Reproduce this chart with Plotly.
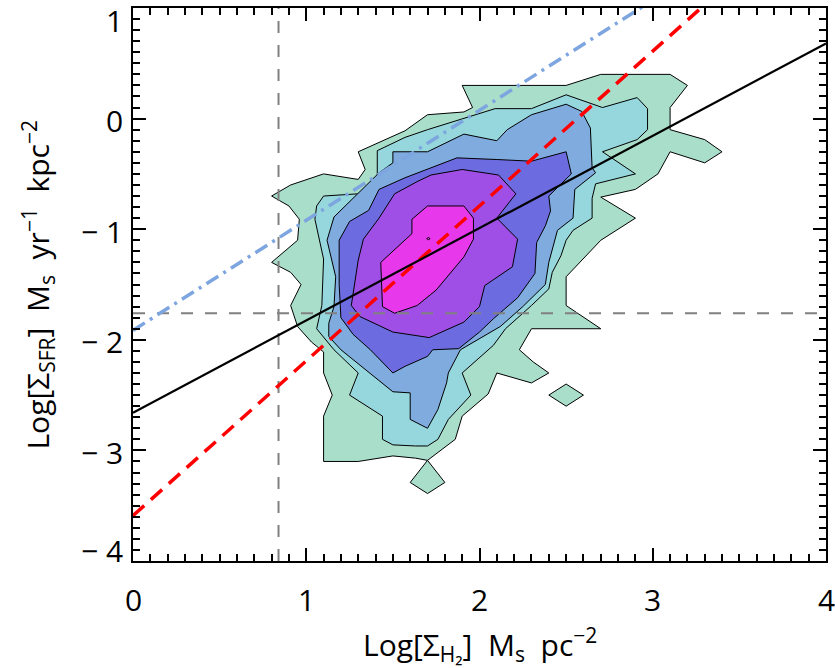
import plotly.graph_objects as go

# ---- contour levels (outer -> inner), vertices in data units ----
level1 = [(0.80,-0.70),(0.91,-0.60),(1.10,-0.50),(1.30,-0.55),(1.34,-0.46),(1.30,-0.30),(1.57,-0.11),
          (1.70,0.035),(1.91,0.06),(1.96,0.10),(1.90,0.30),(2.50,0.30),(2.70,0.40),(3.10,0.40),(3.20,0.30),
          (3.10,0.10),(3.10,-0.10),(3.30,-0.19),(3.40,-0.30),(3.30,-0.40),(3.10,-0.30),(3.03,-0.50),
          (2.90,-0.64),(2.70,-0.71),(2.90,-0.90),(2.70,-1.10),(2.50,-1.43),(2.50,-1.69),(2.70,-1.90),
          (2.30,-1.90),(2.23,-2.09),(2.31,-2.20),(2.40,-2.30),(2.30,-2.39),(2.10,-2.30),(2.05,-2.49),
          (1.90,-2.69),(1.86,-2.90),(1.70,-3.09),(1.63,-3.07),(1.50,-3.05),(1.30,-3.10),(1.10,-3.10),
          (1.10,-2.69),(1.15,-2.50),(1.10,-2.30),(1.10,-2.11),(1.03,-2.02),(0.95,-1.88),(0.91,-1.69),
          (0.97,-1.50),(0.91,-1.39),(0.80,-1.30),(0.95,-1.10),(0.96,-0.91),(0.90,-0.79)]
level1_island_a = [(2.40,-2.50),(2.50,-2.40),(2.60,-2.50),(2.50,-2.60)]
level1_island_b = [(1.70,-3.09),(1.80,-3.29),(1.70,-3.39),(1.60,-3.29)]
level2 = [(1.10,-0.70),(1.30,-0.68),(1.41,-0.52),(1.41,-0.29),(1.57,-0.17),(1.70,-0.10),(2.09,0.09),
          (2.30,0.09),(2.50,0.215),(2.71,0.10),(2.91,0.19),(2.97,0.09),(2.97,-0.10),(2.91,-0.19),
          (2.71,-0.30),(2.90,-0.50),(2.67,-0.59),(2.65,-0.72),(2.65,-0.90),(2.54,-1.01),(2.50,-1.10),
          (2.47,-1.24),(2.42,-1.39),(2.40,-1.54),(2.30,-1.69),(2.15,-1.90),(2.08,-2.05),(1.90,-2.30),
          (1.95,-2.50),(1.82,-2.72),(1.76,-2.90),(1.70,-2.96),(1.63,-2.96),(1.50,-2.95),(1.44,-2.90),
          (1.44,-2.69),(1.25,-2.50),(1.30,-2.30),(1.16,-2.09),(1.11,-1.99),(1.06,-1.90),(1.09,-1.69),
          (1.10,-1.27),(1.05,-0.91),(1.06,-0.79)]
level3 = [(1.50,-0.30),(1.70,-0.30),(1.91,-0.14),(2.10,-0.20),(2.16,-0.10),(2.30,0.035),(2.50,0.13),
          (2.59,0.065),(2.64,-0.085),(2.65,-0.445),(2.67,-0.49),(2.55,-0.64),(2.54,-0.90),(2.45,-1.01),
          (2.40,-1.30),(2.38,-1.50),(2.25,-1.70),(2.12,-1.88),(1.89,-2.09),(1.82,-2.30),(1.81,-2.39),
          (1.76,-2.63),(1.70,-2.80),(1.60,-2.72),(1.60,-2.48),(1.50,-2.47),(1.20,-2.09),(1.13,-1.97),
          (1.13,-1.85),(1.16,-1.70),(1.17,-1.43),(1.12,-1.10),(1.16,-0.89),(1.25,-0.75),(1.42,-0.49),
          (1.50,-0.40)]
level4 = [(1.57,-0.535),(1.715,-0.445),(1.87,-0.355),(2.10,-0.37),(2.30,-0.385),(2.50,-0.30),(2.53,-0.50),
          (2.40,-0.70),(2.41,-0.835),(2.38,-0.97),(2.33,-1.12),(2.32,-1.40),(2.22,-1.62),(2.08,-1.81),
          (2.00,-1.93),(1.88,-2.08),(1.73,-2.09),(1.70,-2.15),(1.57,-2.24),(1.50,-2.30),(1.37,-2.09),
          (1.27,-1.95),(1.20,-1.80),(1.19,-1.50),(1.19,-1.10),(1.25,-0.93),(1.36,-0.83),(1.42,-0.64)]
level5 = [(1.33,-1.09),(1.42,-0.90),(1.51,-0.68),(1.64,-0.57),(1.72,-0.51),(1.90,-0.46),(2.11,-0.51),
          (2.21,-0.68),(2.10,-0.90),(2.22,-1.09),(2.19,-1.34),(2.03,-1.51),(2.00,-1.70),(1.91,-1.84),
          (1.71,-1.98),(1.50,-1.93),(1.31,-1.79),(1.26,-1.69),(1.30,-1.28)]
level6 = [(1.61,-0.91),(1.70,-0.79),(1.91,-0.79),(1.965,-0.90),(1.965,-1.09),(1.91,-1.25),(1.75,-1.55),
          (1.64,-1.69),(1.51,-1.76),(1.44,-1.70),(1.43,-1.30),(1.61,-1.04)]
level7 = [(1.695,-1.085),(1.705,-1.075),(1.715,-1.085),(1.705,-1.095)]

level_colors = ["#A9DECB", "#95D7DD", "#7FABDF", "#6C6BE0", "#A04FE6", "#E738EB", "#E738EB"]

# ---- relations (intercept, slope) ----
fit_black = (-2.66, 0.835)
fit_red = (-3.59, 1.40)
fit_blue = (-1.915, 0.995)
x_cut = 0.84
y_cut = -1.76

# ---- axes ----
x_range = [0, 4]
y_range = [-4, 1]
x_ticks = [0, 1, 2, 3, 4]
x_tick_text = ["0", "1", "2", "3", "4"]
y_ticks = [-4, -3, -2, -1, 0, 1]
y_tick_text = ["− 4", "− 3", "− 2", "− 1", "0", "1"]

fig = go.Figure()

def add_poly(pts, color):
    xs = [p[0] for p in pts] + [pts[0][0]]
    ys = [p[1] for p in pts] + [pts[0][1]]
    fig.add_trace(go.Scatter(x=xs, y=ys, mode="lines", fill="toself", fillcolor=color,
                             line=dict(color="black", width=1), hoverinfo="skip", showlegend=False))

add_poly(level1, level_colors[0])
add_poly(level1_island_a, level_colors[0])
add_poly(level1_island_b, level_colors[0])
add_poly(level2, level_colors[1])
add_poly(level3, level_colors[2])
add_poly(level4, level_colors[3])
add_poly(level5, level_colors[4])
add_poly(level6, level_colors[5])
add_poly(level7, level_colors[6])

# reference cuts
fig.add_trace(go.Scatter(x=[x_cut, x_cut], y=y_range, mode="lines",
                         line=dict(color="#808080", width=2, dash="12px,12px"), showlegend=False))
fig.add_trace(go.Scatter(x=x_range, y=[y_cut, y_cut], mode="lines",
                         line=dict(color="#808080", width=2, dash="12px,12px"), showlegend=False))

def fit_line(fit):
    b, m = fit
    xs = list(x_range)
    return xs, [b + m * x for x in xs]

bx, by = fit_line(fit_blue)
fig.add_trace(go.Scatter(x=bx, y=by, mode="lines",
                         line=dict(color="#7DA5DF", width=3.5, dash="14px,6px,3px,6px"), showlegend=False))
rx, ry = fit_line(fit_red)
fig.add_trace(go.Scatter(x=rx, y=ry, mode="lines",
                         line=dict(color="#FF0000", width=3.5, dash="15px,9px"), showlegend=False))
kx, ky = fit_line(fit_black)
fig.add_trace(go.Scatter(x=kx, y=ky, mode="lines",
                         line=dict(color="black", width=2.2), showlegend=False))

FONT = "Open Sans"
axis_common = dict(
    showgrid=False, zeroline=False, showline=True, linecolor="black", linewidth=2,
    mirror="allticks", ticks="inside", ticklen=13, tickwidth=2, tickcolor="black",
    showticklabels=False,
    minor=dict(ticks="inside", ticklen=7, tickwidth=2, tickcolor="black", dtick=0.1),
)
fig.update_xaxes(range=x_range, tick0=0, dtick=1, **axis_common)
fig.update_yaxes(range=y_range, tick0=0, dtick=1, **axis_common)

# tick labels
for v, t in zip(x_ticks, x_tick_text):
    fig.add_annotation(x=v, xref="x", y=0, yref="paper", yshift=-38, xanchor="center", yanchor="middle",
                       text=t, showarrow=False, font=dict(family=FONT, size=30, color="black"))
y_shift = {1: -12, -4: 11}
for v, t in zip(y_ticks, y_tick_text):
    fig.add_annotation(x=0, xref="paper", xshift=-8, y=v, yref="y", yshift=y_shift.get(v, -2),
                       xanchor="right", yanchor="middle",
                       text=t, showarrow=False, font=dict(family=FONT, size=30, color="black"))

fig.add_annotation(xref="paper", yref="paper", x=0.5, y=-0.151, xanchor="center", yanchor="middle",
                   showarrow=False, font=dict(family=FONT, size=30, color="black"),
                   text="Log[Σ<sub>H₂</sub>]  M<sub>s</sub>  pc<sup>−2</sup>")
fig.add_annotation(xref="paper", yref="paper", x=-0.137, y=0.5, xanchor="center", yanchor="middle",
                   textangle=-90, showarrow=False, font=dict(family=FONT, size=30, color="black"),
                   text="Log[Σ<sub>SFR</sub>]  M<sub>s</sub>  yr<sup>−1</sup>  kpc<sup>−2</sup>")

fig.update_layout(width=835, height=668, margin=dict(l=133, r=9, t=6, b=107),
                  plot_bgcolor="white", paper_bgcolor="white", showlegend=False)

fig.write_html("out.html")
